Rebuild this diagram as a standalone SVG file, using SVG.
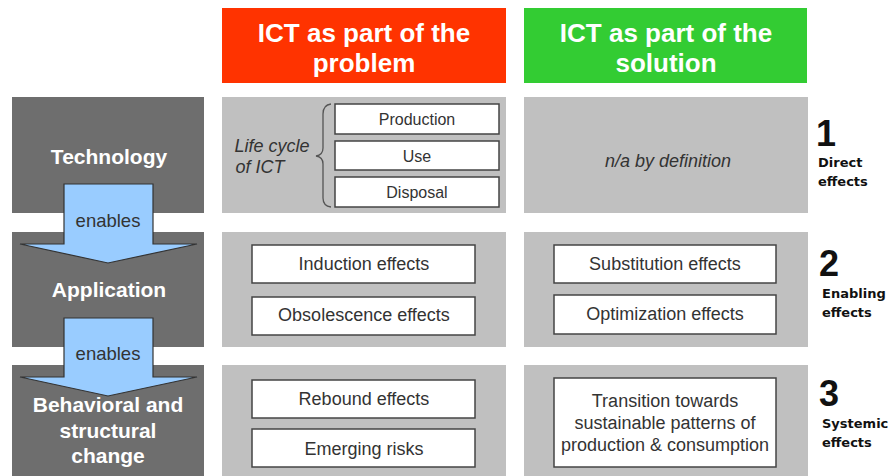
<svg xmlns="http://www.w3.org/2000/svg" width="891" height="476" viewBox="0 0 891 476">
<style>
.hdr{font-family:"Liberation Sans",Arial,sans-serif;font-weight:bold;font-size:26px;fill:#fff;text-anchor:middle}
.lvl{fill:#6e6e6e}
.lvlt{font-family:"Liberation Sans",Arial,sans-serif;font-weight:bold;font-size:21px;fill:#fff;text-anchor:middle}
.cell{fill:#c0c0c0}
.box{fill:#fff;stroke:#444;stroke-width:1.5}
.bt{font-family:"Liberation Sans",Arial,sans-serif;font-size:18px;fill:#333;text-anchor:middle}
.st{font-family:"Liberation Sans",Arial,sans-serif;font-size:16px;fill:#333;text-anchor:middle}
.it{font-family:"Liberation Sans",Arial,sans-serif;font-style:italic;font-size:18px;fill:#333}
.num{font-family:"Liberation Sans",Arial,sans-serif;font-weight:bold;font-size:36px;fill:#111}
.lab{font-family:"DejaVu Sans",sans-serif;font-weight:bold;font-size:13px;fill:#111}
.arr{fill:#99ccff;stroke:#333;stroke-width:1.2}
.en{font-family:"Liberation Sans",Arial,sans-serif;font-size:18.5px;fill:#333;text-anchor:middle}
</style>
<g id="header-problem">
<rect x="222" y="8" width="284" height="75" fill="#ff3300"/>
<text class="hdr" x="364" y="42">ICT as part of the</text>
<text class="hdr" x="364" y="72">problem</text>
</g>
<g id="header-solution">
<rect x="524" y="8" width="283" height="75" fill="#33cc33"/>
<text class="hdr" x="666" y="42">ICT as part of the</text>
<text class="hdr" x="666" y="72">solution</text>
</g>
<g id="technology">
<rect class="lvl" x="12" y="97" width="192" height="116"/>
<text class="lvlt" x="109" y="164">Technology</text>
</g>
<g id="application">
<rect class="lvl" x="12" y="232" width="192" height="115"/>
<text class="lvlt" x="109" y="297">Application</text>
</g>
<g id="behavioral">
<rect class="lvl" x="12" y="365" width="192" height="111"/>
<text class="lvlt" x="108" y="412">Behavioral and</text>
<text class="lvlt" x="108" y="438">structural</text>
<text class="lvlt" x="108" y="463">change</text>
</g>
<g id="connectors">
<path class="arr" d="M64 184 H153 V244 H197 L108 263 L20 244 H64 Z"/>
<text class="en" x="108" y="227">enables</text>
<path class="arr" d="M64 318 H153 V377 H197 L108 396 L20 377 H64 Z"/>
<text class="en" x="108" y="360">enables</text>
</g>
<g id="lifecycle">
<rect class="cell" x="222" y="97" width="284" height="116"/>
<text class="it" x="272" y="152" text-anchor="middle">Life cycle</text>
<text class="it" x="260" y="173" text-anchor="middle">of ICT</text>
<path d="M331 104 Q323 105 323 114 V148 Q323 155 316 156 Q323 157 323 164 V198 Q323 206 331 207" fill="none" stroke="#555" stroke-width="1.3"/>
<rect class="box" x="335" y="104" width="164" height="30"/>
<text class="st" x="417" y="125">Production</text>
<rect class="box" x="335" y="141" width="164" height="29"/>
<text class="st" x="417" y="162">Use</text>
<rect class="box" x="335" y="177" width="164" height="30"/>
<text class="st" x="417" y="198">Disposal</text>
</g>
<g id="na">
<rect class="cell" x="524" y="97" width="284" height="116"/>
<text class="it" x="668" y="167" text-anchor="middle">n/a by definition</text>
</g>
<g id="problem-enabling">
<rect class="cell" x="222" y="232" width="284" height="115"/>
<rect class="box" x="252" y="245" width="223" height="38"/>
<text class="bt" x="364" y="270">Induction effects</text>
<rect class="box" x="252" y="297" width="223" height="38"/>
<text class="bt" x="364" y="321">Obsolescence effects</text>
</g>
<g id="solution-enabling">
<rect class="cell" x="524" y="232" width="284" height="115"/>
<rect class="box" x="554" y="245" width="222" height="38"/>
<text class="bt" x="665" y="270">Substitution effects</text>
<rect class="box" x="554" y="295" width="222" height="39"/>
<text class="bt" x="665" y="320">Optimization effects</text>
</g>
<g id="problem-systemic">
<rect class="cell" x="222" y="365" width="284" height="111"/>
<rect class="box" x="252" y="380" width="223" height="38"/>
<text class="bt" x="364" y="405">Rebound effects</text>
<rect class="box" x="252" y="429" width="223" height="38"/>
<text class="bt" x="364" y="455">Emerging risks</text>
</g>
<g id="solution-systemic">
<rect class="cell" x="524" y="365" width="284" height="111"/>
<rect class="box" x="554" y="378" width="222" height="89"/>
<text class="bt" x="665" y="407">Transition towards</text>
<text class="bt" x="665" y="429">sustainable patterns of</text>
<text class="bt" x="665" y="451">production &amp; consumption</text>
</g>
<g id="label-1">
<text class="num" x="816" y="146">1</text>
<text class="lab" x="818" y="167">Direct</text>
<text class="lab" x="818" y="186">effects</text>
</g>
<g id="label-2">
<text class="num" x="819" y="276">2</text>
<text class="lab" x="822" y="298">Enabling</text>
<text class="lab" x="822" y="317">effects</text>
</g>
<g id="label-3">
<text class="num" x="819" y="406">3</text>
<text class="lab" x="822" y="428">Systemic</text>
<text class="lab" x="822" y="447">effects</text>
</g>
</svg>
